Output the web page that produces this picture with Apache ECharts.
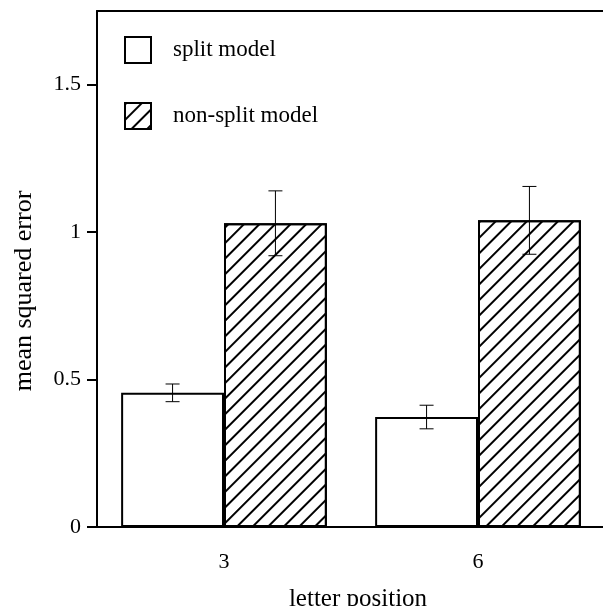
<!DOCTYPE html>
<html>
<head>
<meta charset="utf-8">
<script src="https://cdn.jsdelivr.net/npm/echarts@6/dist/echarts.min.js"></script>
<style>
  html, body { margin: 0; padding: 0; background: #fff; }
  #chart { width: 603px; height: 606px; }
</style>
</head>
<body>
<div id="chart"></div>
<script>
const positions = ['3', '6'];
const splitMse = [0.455, 0.373];
const splitErr = [0.03, 0.04];
const nonSplitMse = [1.03, 1.04];
const nonSplitErr = [0.11, 0.115];

const serif = 'Liberation Serif';
const catGap = 0.19;

// error bars drawn over a bar; side -1 = left bar, +1 = right bar
function errorBars(side) {
  return function (params, api) {
    const idx = api.value(0);
    const mean = api.value(1);
    const err = api.value(2);
    const band = api.size([1, 0])[0];
    const dx = side * band * (1 - catGap) / 4;
    const hi = api.coord([idx, mean + err]);
    const lo = api.coord([idx, mean - err]);
    const x = hi[0] + dx;
    const cap = 7;
    const style = { stroke: '#000', lineWidth: 1 };
    return {
      type: 'group',
      children: [
        { type: 'line', shape: { x1: x, y1: hi[1], x2: x, y2: lo[1] }, style },
        { type: 'line', shape: { x1: x - cap, y1: hi[1], x2: x + cap, y2: hi[1] }, style },
        { type: 'line', shape: { x1: x - cap, y1: lo[1], x2: x + cap, y2: lo[1] }, style }
      ]
    };
  };
}

const chart = echarts.init(document.getElementById('chart'));

const option = {
  backgroundColor: '#fff',
  animation: false,
  textStyle: { fontFamily: serif, color: '#000' },
  grid: { left: 97, width: 508, top: 11, bottom: 79, outerBoundsMode: 'none', containLabel: false },
  legend: {
    orient: 'vertical',
    left: 119,
    top: 31,
    itemWidth: 26,
    itemHeight: 26,
    itemGap: 38,
    icon: 'rect',
    data: ['split model', 'non-split model'],
    textStyle: { fontFamily: serif, fontSize: 23, color: '#000', padding: [0, 0, 0, 17] }
  },
  xAxis: [
    {
      type: 'category',
      data: positions,
      name: 'letter position',
      nameLocation: 'middle',
      nameGap: 60,
      nameTextStyle: { fontFamily: serif, fontSize: 25, color: '#000', padding: [0, 0, 0, 14] },
      axisLine: { lineStyle: { color: '#000', width: 2 } },
      axisTick: { alignWithLabel: true, length: 14, lineStyle: { color: '#000', width: 2 } },
      axisLabel: { fontFamily: serif, fontSize: 22, color: '#000', margin: 24 }
    },
    {
      // top frame line
      type: 'category',
      position: 'top',
      data: positions,
      axisLine: { lineStyle: { color: '#000', width: 2 } },
      axisTick: { show: false },
      axisLabel: { show: false }
    }
  ],
  yAxis: {
    type: 'value',
    min: 0,
    max: 1.75,
    interval: 0.5,
    name: 'mean squared error',
    nameLocation: 'middle',
    nameGap: 60,
    nameTextStyle: { fontFamily: serif, fontSize: 26, color: '#000', padding: [0, 44, 0, 0] },
    axisLine: { show: true, lineStyle: { color: '#000', width: 2 } },
    axisTick: { show: true, length: 10, lineStyle: { color: '#000', width: 2 } },
    axisLabel: { fontFamily: serif, fontSize: 22, color: '#000', margin: 16, showMaxLabel: false },
    splitLine: { show: false }
  },
  series: [
    {
      name: 'split model',
      type: 'bar',
      barGap: '0%',
      barCategoryGap: (catGap * 100) + '%',
      data: splitMse,
      itemStyle: { color: '#fff', borderColor: '#000', borderWidth: 2 }
    },
    {
      name: 'non-split model',
      type: 'bar',
      data: nonSplitMse,
      itemStyle: {
        color: '#fff', borderColor: '#000', borderWidth: 2,
        decal: {
          symbol: 'rect',
          symbolSize: 1,
          dashArrayX: [1, 0],
          dashArrayY: [1.5, 8.5],
          rotation: -Math.PI / 4,
          color: '#000'
        }
      }
    },
    {
      type: 'custom',
      renderItem: errorBars(-1),
      z: 5,
      data: splitMse.map((v, i) => [i, v, splitErr[i]])
    },
    {
      type: 'custom',
      renderItem: errorBars(1),
      z: 5,
      data: nonSplitMse.map((v, i) => [i, v, nonSplitErr[i]])
    }
  ]
};

chart.setOption(option);
</script>
</body>
</html>
